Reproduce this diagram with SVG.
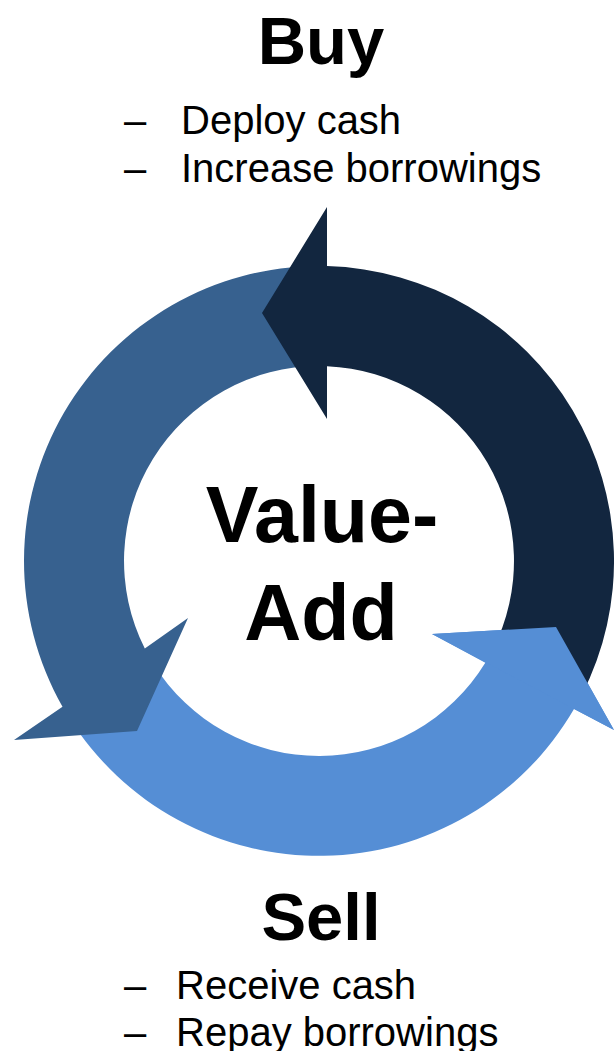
<svg xmlns="http://www.w3.org/2000/svg" width="614" height="1051" viewBox="0 0 614 1051">
<style>
.title{font-family:"Liberation Sans",Arial,sans-serif;font-weight:bold;font-size:67px;fill:#000;text-anchor:middle}
.center{font-family:"Liberation Sans",Arial,sans-serif;font-weight:bold;font-size:79px;fill:#000;text-anchor:middle}
.item{font-family:"Liberation Sans",Arial,sans-serif;font-size:40px;fill:#000}
.dark{fill:#12263F}
.mid{fill:#37618F}
.light{fill:#558ED5}
</style>
<rect width="614" height="1051" fill="#fff"/>
<g id="connectors">
<g id="arrow-sell-to-buy-light">
<path class="light" d="M68.83,717.33 A295,295 0 0 0 574,709 L614,730 L556,627 L432,634 L485.3,662.8 A195,195 0 0 1 153.63,664.33 Z"/>
</g>
<g id="arrow-buy-to-sell-mid">
<path class="mid" d="M319,266 A295,295 0 0 0 62.5,706.7 L14,740 L137,731 L188,618 L144.8,648.6 A195,195 0 0 1 319,366 Z"/>
</g>
<g id="arrow-value-to-buy-dark">
<path class="dark" d="M581.85,694.93 A295,295 0 0 0 327,266.1 L327,207 L262,313 L327,419 L327,366.2 A195,195 0 0 1 492.75,649.53 Z"/>
</g>
<g id="arrow-light-head">
<path class="light" d="M432,634 L556,627 L614,730 Z"/>
</g>
</g>
<g id="node-buy">
<text class="title" x="321" y="64">Buy</text>
<text class="item" x="124" y="134">–</text>
<text class="item" x="181" y="134">Deploy cash</text>
<text class="item" x="124" y="182">–</text>
<text class="item" x="181" y="182">Increase borrowings</text>
</g>
<g id="node-value-add">
<text class="center" x="322" y="542">Value-</text>
<text class="center" x="321" y="640">Add</text>
</g>
<g id="node-sell">
<text class="title" x="321" y="940">Sell</text>
<text class="item" x="124" y="999">–</text>
<text class="item" x="176" y="999">Receive cash</text>
<text class="item" x="124" y="1046">–</text>
<text class="item" x="176" y="1046">Repay borrowings</text>
</g>
</svg>
